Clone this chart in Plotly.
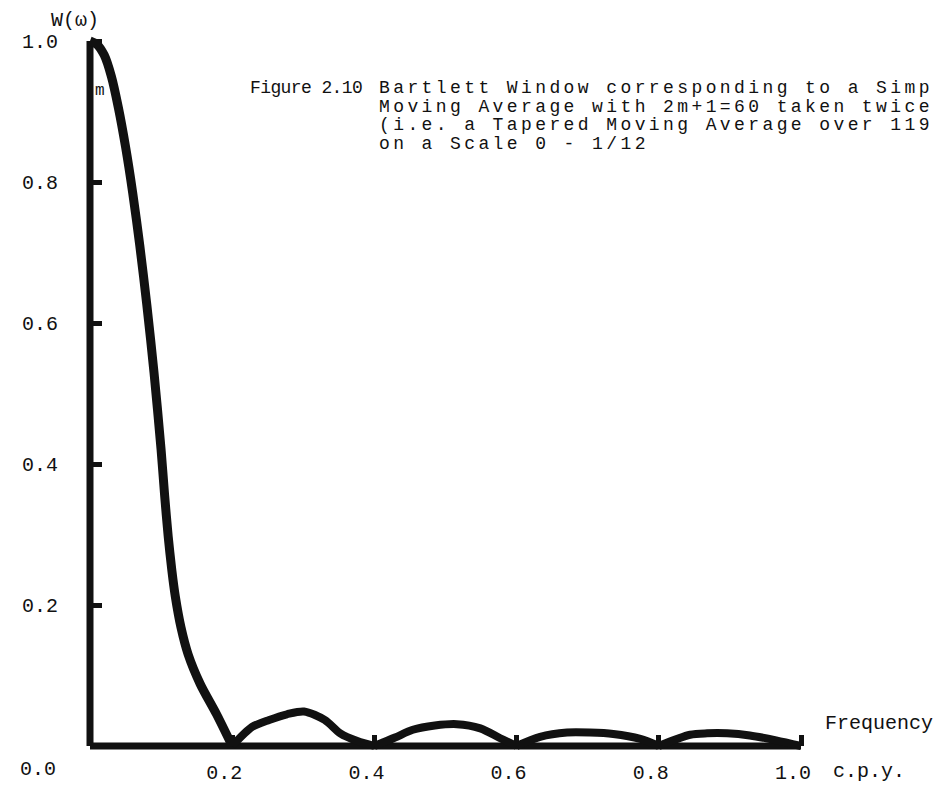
import plotly.graph_objects as go

# W(omega) of the Bartlett window, frequency in cycles per year
main_f = [0.000, 0.010, 0.020, 0.030, 0.040, 0.050, 0.060, 0.070, 0.080, 0.090,
          0.100, 0.105, 0.110, 0.115, 0.120, 0.128, 0.138, 0.155, 0.178, 0.200]
main_w = [1.000, 0.995, 0.980, 0.950, 0.905, 0.850, 0.785, 0.710, 0.625, 0.530,
          0.420, 0.355, 0.297, 0.250, 0.212, 0.168, 0.130, 0.088, 0.045, 0.000]

lobe1_f = [0.200, 0.228, 0.252, 0.277, 0.301, 0.330, 0.352, 0.376, 0.400]
lobe1_w = [0.000, 0.027, 0.037, 0.045, 0.049, 0.037, 0.018, 0.007, 0.000]

lobe2_f = [0.400, 0.429, 0.454, 0.485, 0.516, 0.549, 0.577, 0.600]
lobe2_w = [0.000, 0.012, 0.023, 0.029, 0.031, 0.025, 0.011, 0.000]

lobe3_f = [0.600, 0.633, 0.671, 0.703, 0.736, 0.774, 0.800]
lobe3_w = [0.000, 0.013, 0.019, 0.019, 0.017, 0.010, 0.000]

lobe4_f = [0.800, 0.844, 0.868, 0.896, 0.928, 0.965, 1.000]
lobe4_w = [0.000, 0.016, 0.018, 0.018, 0.015, 0.008, 0.000]

x_ticks = [0.2, 0.4, 0.6, 0.8, 1.0]
x_tick_text = ["0.2", "0.4", "0.6", "0.8", "1.0"]
y_ticks = [0.2, 0.4, 0.6, 0.8, 1.0]
y_tick_text = ["0.2", "0.4", "0.6", "0.8", "1.0"]
origin_label = "0.0"

caption_tag = "Figure 2.10"
caption_lines = [
    "Bartlett Window corresponding to a Simple",
    "Moving Average with 2m+1=60 taken twice",
    "(i.e. a Tapered Moving Average over 119",
    "on a Scale 0 - 1/12",
]

W, H = 934, 792
X0_PX, X1_PX = 90, 801      # pixel columns of f = 0 and f = 1.0
Y0_PX, Y1_PX = 746, 41      # pixel rows of W = 0 and W = 1.0
sx = (X1_PX - X0_PX)
sy = (Y0_PX - Y1_PX)
x_range = [(0 - X0_PX) / sx, (W - X0_PX) / sx]
y_range = [(Y0_PX - H) / sy, (Y0_PX - 0) / sy]

INK = "#111111"
FONT = "Liberation Mono, Courier New, monospace"
FS = 20
CAP_FS = 18


def typed(s, spacing):
    """Typewriter pitch via letter spacing."""
    return '<span style="letter-spacing:%.1fpx">%s</span>' % (spacing, s)


fig = go.Figure()

# hand-ruled axes
fig.add_trace(go.Scatter(x=[0, 0], y=[0, 1.0], mode="lines",
                         line=dict(color=INK, width=7), hoverinfo="skip"))
fig.add_trace(go.Scatter(x=[0, 1.0], y=[0, 0], mode="lines",
                         line=dict(color=INK, width=7), hoverinfo="skip"))

for f, w, lw in [(main_f, main_w, 9), (lobe1_f, lobe1_w, 8), (lobe2_f, lobe2_w, 8),
                 (lobe3_f, lobe3_w, 8), (lobe4_f, lobe4_w, 8)]:
    fig.add_trace(go.Scatter(x=f, y=w, mode="lines",
                             line=dict(color=INK, width=lw, shape="spline", smoothing=0.8),
                             hoverinfo="skip"))

font = dict(family=FONT, size=FS, color=INK)
cap_font = dict(family=FONT, size=CAP_FS, color=INK)
annotations = [
    dict(x=0, y=1.0, xref="x", yref="y", text="W(\u03c9)", showarrow=False,
         xshift=-15, yshift=21, font=font),
    dict(x=0, y=0, xref="x", yref="y", text=origin_label, showarrow=False,
         xshift=-52, yshift=-23, font=font),
    dict(x=1.0, y=0, xref="x", yref="y", text="Frequency", showarrow=False,
         xanchor="left", xshift=22, yshift=23, font=font),
    dict(x=1.0, y=0, xref="x", yref="y", text="c.p.y.", showarrow=False,
         xanchor="left", xshift=30, yshift=-25, font=font),
    dict(x=0, y=0.929, xref="x", yref="y", text="m", showarrow=False,
         xanchor="left", xshift=3, font=dict(family=FONT, size=16, color=INK)),
    dict(x=248 / W, y=1 - 88 / H, xref="paper", yref="paper", text=typed(caption_tag, -0.6),
         showarrow=False, xanchor="left", yanchor="middle", font=cap_font),
]
for i, line in enumerate(caption_lines):
    annotations.append(dict(x=377 / W, y=1 - (88 + 18.5 * i) / H, xref="paper", yref="paper",
                            text=typed(line, 3.4), showarrow=False,
                            xanchor="left", yanchor="middle", font=cap_font))

fig.update_layout(
    width=W, height=H,
    margin=dict(l=0, r=0, t=0, b=0),
    paper_bgcolor="white", plot_bgcolor="white",
    showlegend=False,
    annotations=annotations,
    xaxis=dict(range=x_range, anchor="free", position=(H - Y0_PX) / H,
               showgrid=False, zeroline=False, showline=False,
               tickmode="array", tickvals=x_ticks, ticktext=x_tick_text,
               ticks="inside", ticklen=11, tickwidth=5, tickcolor=INK,
               ticklabelstandoff=12, ticklabelshift=-8,
               tickfont=font, fixedrange=True),
    yaxis=dict(range=y_range, anchor="free", position=X0_PX / W,
               showgrid=False, zeroline=False, showline=False,
               tickmode="array", tickvals=y_ticks, ticktext=y_tick_text,
               ticks="inside", ticklen=11, tickwidth=5, tickcolor=INK,
               ticklabelstandoff=32,
               tickfont=font, fixedrange=True),
)

fig.write_html("out.html")
